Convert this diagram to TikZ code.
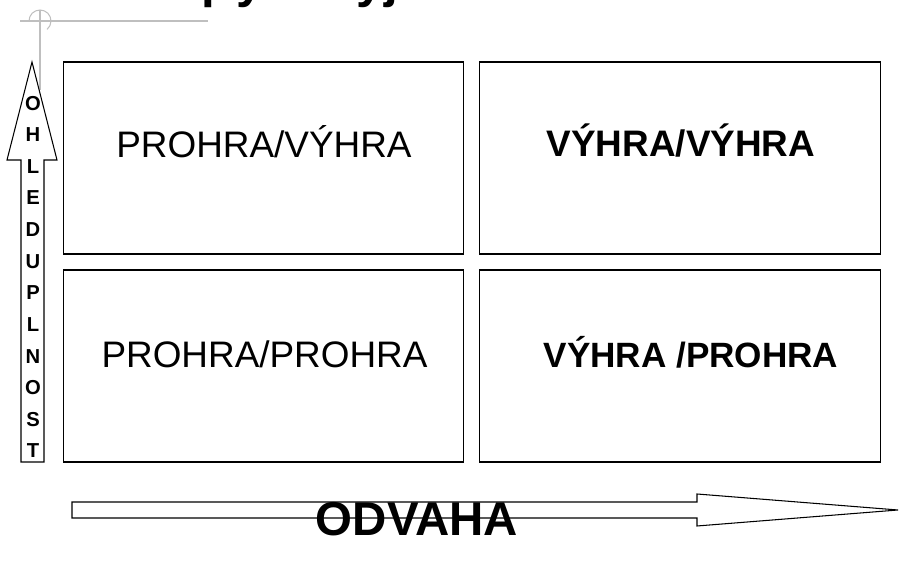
\documentclass[tikz,border=0pt]{standalone}
\usepackage{fontspec}
\setmainfont{Liberation Sans}
\usetikzlibrary{positioning}

\begin{document}
\begin{tikzpicture}[x=0.02cm, y=-0.02cm,
    box/.style={draw, line width=0.6pt, minimum width=8.02cm, minimum height=3.84cm, inner sep=0},
    lose/.style={anchor=base, inner sep=0, font=\fontsize{21}{25}\selectfont},
    win/.style={anchor=base, inner sep=0, font=\fontsize{21}{25}\selectfont\bfseries},
    shape arrow/.style={draw, line width=0.6pt, line join=miter},
    guide/.style={draw=black!25, line width=0.6pt}]
    \useasboundingbox (0,0) rectangle (900,573);
    % title, cut off at the top
    \node[anchor=base west, inner sep=0, font=\fontsize{28}{32}\selectfont\bfseries] (t1) at (201.5,-2.5) {p};
    \node[anchor=base west, inner sep=0, font=\fontsize{28}{32}\selectfont\bfseries] (t2) at (236.5,-2.5) {y};
    \node[anchor=base west, inner sep=0, font=\fontsize{28}{32}\selectfont\bfseries] (t3) at (356.5,-2.5) {y};
    \node[anchor=base west, inner sep=0, font=\fontsize{28}{32}\selectfont\bfseries] (t4) at (384.5,-2.5) {j};
    % guide lines
    \draw[guide] (20,21) -- (208,21);
    \draw[guide] (40,10) -- (40,90);
    \draw[guide] (29,21) arc[start angle=180, end angle=410, radius=11];
    % four boxes
    \node[box] (boxpv) at (263.5,158) {};
    \node[box] (boxvv) at (680,158) {};
    \node[box] (boxpp) at (263.5,366) {};
    \node[box] (boxvp) at (680,366) {};
    \node[lose] (pv) at (264,158) {PROHRA/VÝHRA};
    \node[win] (vv) at (681,157) {VÝHRA/VÝHRA};
    \node[lose] (pp) at (264.5,368) {PROHRA/PROHRA};
    \node[win, font=\fontsize{20}{24}\selectfont\bfseries] (vp) at (691,368) {VÝHRA /PROHRA};
    % vertical arrow
    \draw[shape arrow] (21,462) -- (21,160) -- (7,160) -- (32,62) -- (57,160) -- (44,160) -- (44,462) -- cycle;
    \node[align=center, inner sep=0, font=\fontsize{11.5}{18}\selectfont\bfseries] (ohled) at (33,277)
        {O\\H\\L\\E\\D\\U\\P\\L\\N\\O\\S\\T};
    % horizontal arrow
    \draw[shape arrow] (72,502) -- (697,502) -- (697,494) -- (898,510) -- (697,526) -- (697,518) -- (72,518) -- cycle;
    \node[anchor=base, inner sep=0, font=\fontsize{27}{32}\selectfont\bfseries] (odvaha) at (417,536) {ODVAHA};
\end{tikzpicture}
\end{document}
